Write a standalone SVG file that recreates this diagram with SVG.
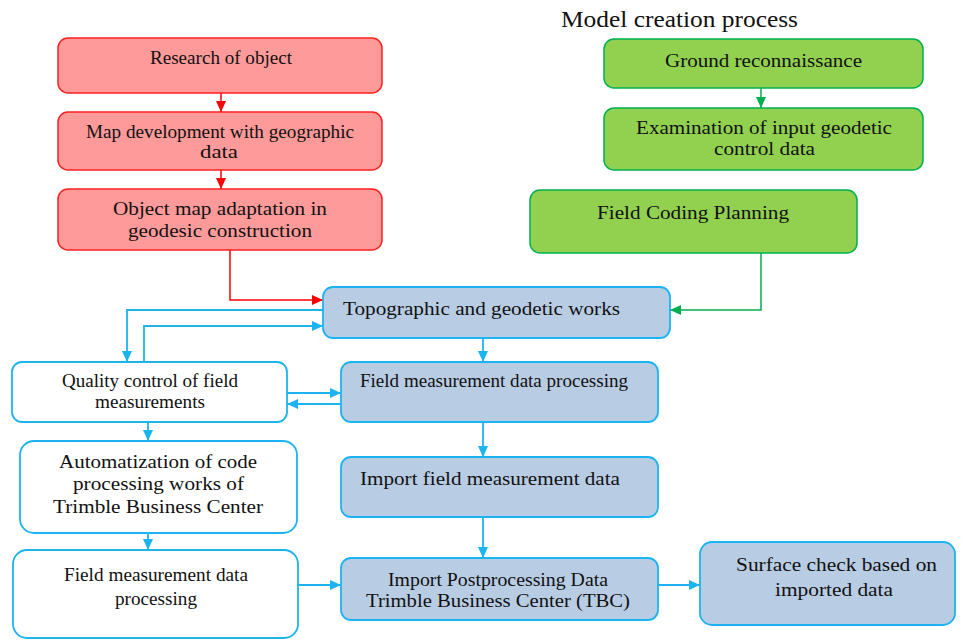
<svg xmlns="http://www.w3.org/2000/svg" width="963" height="641" viewBox="0 0 963 641">
<style>
text{font-family:"Liberation Serif","Times New Roman",serif;font-size:19px;fill:#111}
.t{font-size:23px}
.red{fill:#FF9A9A;stroke:#FF2020;stroke-width:1.5}
.grn{fill:#92D050;stroke:#00B050;stroke-width:1.5}
.blu{fill:#B8CCE4;stroke:#1CB4F0;stroke-width:1.8}
.wht{fill:#FFFFFF;stroke:#1CB4F0;stroke-width:1.8}
.cr{fill:none;stroke:#FF0000;stroke-width:1.5;marker-end:url(#ar)}
.cg{fill:none;stroke:#00B050;stroke-width:1.5;marker-end:url(#ag)}
.cb{fill:none;stroke:#1CB4F0;stroke-width:1.8;marker-end:url(#ab)}
</style>
<defs>
<marker id="ar" markerUnits="userSpaceOnUse" markerWidth="12" markerHeight="12" refX="11" refY="6" orient="auto"><path d="M0,1 L11,6 L0,11 Z" fill="#FF0000"/></marker>
<marker id="ag" markerUnits="userSpaceOnUse" markerWidth="12" markerHeight="12" refX="11" refY="6" orient="auto"><path d="M0,1 L11,6 L0,11 Z" fill="#00B050"/></marker>
<marker id="ab" markerUnits="userSpaceOnUse" markerWidth="12" markerHeight="12" refX="11" refY="6" orient="auto"><path d="M0,1 L11,6 L0,11 Z" fill="#1CB4F0"/></marker>
</defs>
<text class="t" x="561" y="27" textLength="237" lengthAdjust="spacingAndGlyphs">Model creation process</text>
<g id="connectors">
<path class="cr" d="M221,93 V112"/>
<path class="cr" d="M221,170 V189"/>
<path class="cr" d="M230,250 V300 H323"/>
<path class="cg" d="M761,88 V108"/>
<path class="cg" d="M761,253 V310 H670"/>
<path class="cb" d="M323,310 H127 V362"/>
<path class="cb" d="M144,362 V326 H323"/>
<path class="cb" d="M287,393 H341"/>
<path class="cb" d="M341,404 H287"/>
<path class="cb" d="M483,338 V362"/>
<path class="cb" d="M148,422 V441"/>
<path class="cb" d="M148,533 V550"/>
<path class="cb" d="M483,422 V457"/>
<path class="cb" d="M483,517 V558"/>
<path class="cb" d="M298,585 H341"/>
<path class="cb" d="M658,585 H700"/>
</g>
<g id="research">
<rect class="red" x="58" y="38" width="324" height="55" rx="10"/>
<text x="150" y="64" textLength="142" lengthAdjust="spacingAndGlyphs">Research of object</text>
</g>
<g id="mapdev">
<rect class="red" x="58" y="112" width="324" height="58" rx="10"/>
<text x="86" y="138" textLength="268" lengthAdjust="spacingAndGlyphs">Map development with geographic</text>
<text x="200" y="158" textLength="38" lengthAdjust="spacingAndGlyphs">data</text>
</g>
<g id="objmap">
<rect class="red" x="58" y="189" width="324" height="61" rx="10"/>
<text x="113" y="215" textLength="214" lengthAdjust="spacingAndGlyphs">Object map adaptation in</text>
<text x="128" y="237" textLength="184" lengthAdjust="spacingAndGlyphs">geodesic construction</text>
</g>
<g id="ground">
<rect class="grn" x="604" y="39" width="319" height="49" rx="10"/>
<text x="665" y="67" textLength="197" lengthAdjust="spacingAndGlyphs">Ground reconnaissance</text>
</g>
<g id="exam">
<rect class="grn" x="604" y="108" width="319" height="62" rx="10"/>
<text x="636" y="134" textLength="256" lengthAdjust="spacingAndGlyphs">Examination of input geodetic</text>
<text x="714" y="155" textLength="101" lengthAdjust="spacingAndGlyphs">control data</text>
</g>
<g id="fieldcoding">
<rect class="grn" x="530" y="190" width="327" height="63" rx="10"/>
<text x="597" y="219" textLength="192" lengthAdjust="spacingAndGlyphs">Field Coding Planning</text>
</g>
<g id="topo">
<rect class="blu" x="323" y="287" width="347" height="51" rx="10"/>
<text x="343" y="315" textLength="277" lengthAdjust="spacingAndGlyphs">Topographic and geodetic works</text>
</g>
<g id="fieldproc">
<rect class="blu" x="341" y="362" width="317" height="60" rx="10"/>
<text x="360" y="387" textLength="268" lengthAdjust="spacingAndGlyphs">Field measurement data processing</text>
</g>
<g id="quality">
<rect class="wht" x="12" y="362" width="275" height="60" rx="10"/>
<text x="62" y="387" textLength="176" lengthAdjust="spacingAndGlyphs">Quality control of field</text>
<text x="95" y="408" textLength="110" lengthAdjust="spacingAndGlyphs">measurements</text>
</g>
<g id="importfield">
<rect class="blu" x="341" y="457" width="317" height="60" rx="10"/>
<text x="360" y="485" textLength="260" lengthAdjust="spacingAndGlyphs">Import field measurement data</text>
</g>
<g id="automat">
<rect class="wht" x="20" y="441" width="277" height="92" rx="14"/>
<text x="59" y="468" textLength="198" lengthAdjust="spacingAndGlyphs">Automatization of code</text>
<text x="73" y="490" textLength="171" lengthAdjust="spacingAndGlyphs">processing works of</text>
<text x="53" y="513" textLength="210" lengthAdjust="spacingAndGlyphs">Trimble Business Center</text>
</g>
<g id="fieldproc2">
<rect class="wht" x="13" y="550" width="285" height="88" rx="14"/>
<text x="64" y="581" textLength="184" lengthAdjust="spacingAndGlyphs">Field measurement data</text>
<text x="115" y="605" textLength="82" lengthAdjust="spacingAndGlyphs">processing</text>
</g>
<g id="postproc">
<rect class="blu" x="341" y="558" width="317" height="62" rx="10"/>
<text x="388" y="586" textLength="220" lengthAdjust="spacingAndGlyphs">Import Postprocessing Data</text>
<text x="366" y="607" textLength="264" lengthAdjust="spacingAndGlyphs">Trimble Business Center (TBC)</text>
</g>
<g id="surface">
<rect class="blu" x="700" y="542" width="255" height="83" rx="12"/>
<text x="736" y="571" textLength="201" lengthAdjust="spacingAndGlyphs">Surface check based on</text>
<text x="775" y="596" textLength="118" lengthAdjust="spacingAndGlyphs">imported data</text>
</g>
</svg>
